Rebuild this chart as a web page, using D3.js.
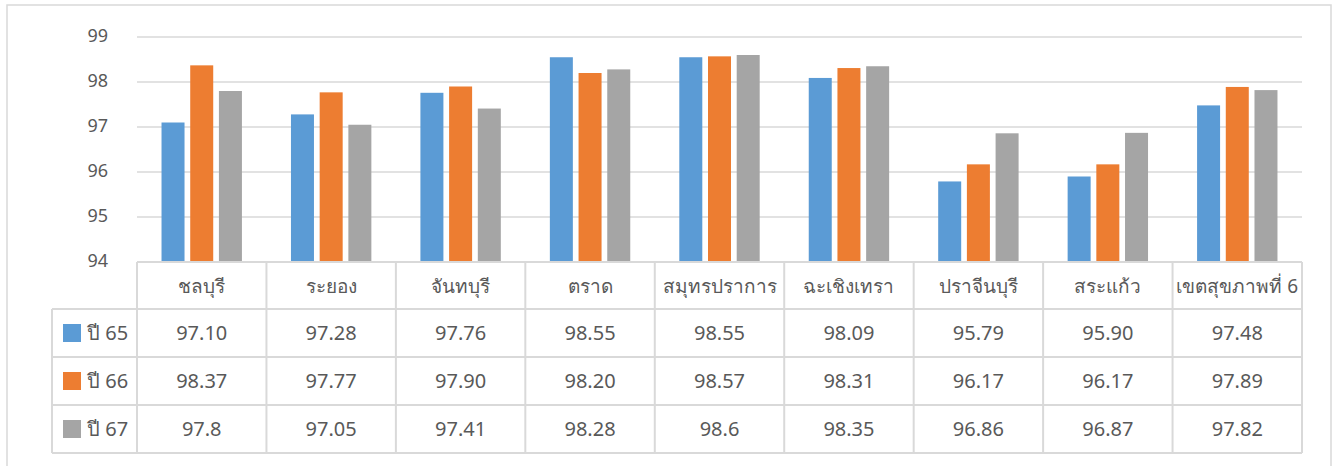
<!DOCTYPE html>
<html>
<head>
<meta charset="utf-8">
<script src="https://cdn.jsdelivr.net/npm/d3@7"></script>
<style>
  body { margin: 0; background: #fff; }
  svg text { font-family: Tahoma, "Noto Sans", "DejaVu Sans", sans-serif; fill: #595959; }
</style>
</head>
<body>
<div id="chart"></div>
<script>
(function(){
const categories = ["ชลบุรี", "ระยอง", "จันทบุรี", "ตราด", "สมุทรปราการ", "ฉะเชิงเทรา", "ปราจีนบุรี", "สระแก้ว", "เขตสุขภาพที่ 6"];
const seriesNames = ["ปี 65", "ปี 66", "ปี 67"];
const y65 = [97.10, 97.28, 97.76, 98.55, 98.55, 98.09, 95.79, 95.90, 97.48];
const y66 = [98.37, 97.77, 97.90, 98.20, 98.57, 98.31, 96.17, 96.17, 97.89];
const y67 = [97.8, 97.05, 97.41, 98.28, 98.6, 98.35, 96.86, 96.87, 97.82];
const y65Labels = ["97.10", "97.28", "97.76", "98.55", "98.55", "98.09", "95.79", "95.90", "97.48"];
const y66Labels = ["98.37", "97.77", "97.90", "98.20", "98.57", "98.31", "96.17", "96.17", "97.89"];
const y67Labels = ["97.8", "97.05", "97.41", "98.28", "98.6", "98.35", "96.86", "96.87", "97.82"];
const yTicks = [94, 95, 96, 97, 98, 99];
const colors = ["#5b9bd5", "#ed7d31", "#a5a5a5"];

const series = [y65, y66, y67];
const labels = [y65Labels, y66Labels, y67Labels];

const width = 1338, height = 466;
const left = 137, right = 1302, top = 37, bottom = 262;
const grid = "#d9d9d9";

const svg = d3.select("#chart").append("svg")
  .attr("width", width)
  .attr("height", height);

// outer frame
svg.append("rect")
  .attr("x", 7).attr("y", 5)
  .attr("width", 1324).attr("height", 480)
  .attr("fill", "none").attr("stroke", grid).attr("stroke-width", 1.5);

const x = d3.scaleBand().domain(categories).range([left, right]);
const y = d3.scaleLinear().domain([94, 99]).range([bottom, top]);

// gridlines
svg.append("g").selectAll("line")
  .data(yTicks.filter(t => t > 94))
  .join("line")
  .attr("x1", left).attr("x2", right)
  .attr("y1", d => y(d)).attr("y2", d => y(d))
  .attr("stroke", grid).attr("stroke-width", 1.5);

// y axis labels
svg.append("g").selectAll("text")
  .data(yTicks)
  .join("text")
  .attr("x", 108)
  .attr("y", d => y(d) + 5)
  .attr("text-anchor", "end")
  .style("font-size", "18px")
  .text(d => d);

// bars
const step = 28.7, barW = 23;
series.forEach((vals, si) => {
  svg.append("g").selectAll("rect")
    .data(vals)
    .join("rect")
    .attr("x", (d, i) => x(categories[i]) + x.bandwidth() / 2 + (si - 1) * step - barW / 2)
    .attr("y", d => y(d))
    .attr("width", barW)
    .attr("height", d => y(94) - y(d))
    .attr("fill", colors[si]);
});

// data table
const rowH = [47, 48, 48, 48];
const rowY = [bottom];
rowH.forEach((h, i) => rowY.push(rowY[i] + h));
const legendLeft = 52;

const tbl = svg.append("g").attr("stroke", grid).attr("stroke-width", 2).attr("fill", "none");
// horizontal lines
rowY.forEach((ry, i) => {
  tbl.append("line")
    .attr("x1", i === 0 ? left : legendLeft).attr("x2", right)
    .attr("y1", ry).attr("y2", ry);
});
// vertical lines
const cols = categories.map(c => x(c)).concat([right]);
cols.forEach(cx => {
  tbl.append("line")
    .attr("x1", cx).attr("x2", cx)
    .attr("y1", bottom).attr("y2", rowY[4]);
});
tbl.append("line")
  .attr("x1", legendLeft).attr("x2", legendLeft)
  .attr("y1", rowY[1]).attr("y2", rowY[4]);

// header labels
svg.append("g").selectAll("text")
  .data(categories)
  .join("text")
  .attr("x", d => x(d) + x.bandwidth() / 2)
  .attr("y", (rowY[0] + rowY[1]) / 2 + 7)
  .attr("text-anchor", "middle")
  .style("font-size", "19px")
  .text(d => d);

// series rows
series.forEach((vals, si) => {
  const cy = (rowY[si + 1] + rowY[si + 2]) / 2;
  svg.append("rect")
    .attr("x", 63).attr("y", cy - 9)
    .attr("width", 18).attr("height", 18)
    .attr("fill", colors[si]);
  svg.append("text")
    .attr("x", 87).attr("y", cy + 7)
    .style("font-size", "20px")
    .text(seriesNames[si]);
  svg.append("g").selectAll("text")
    .data(labels[si])
    .join("text")
    .attr("x", (d, i) => x(categories[i]) + x.bandwidth() / 2)
    .attr("y", cy + 7)
    .attr("text-anchor", "middle")
    .style("font-size", "20px")
    .text(d => d);
});
})();
</script>
</body>
</html>
